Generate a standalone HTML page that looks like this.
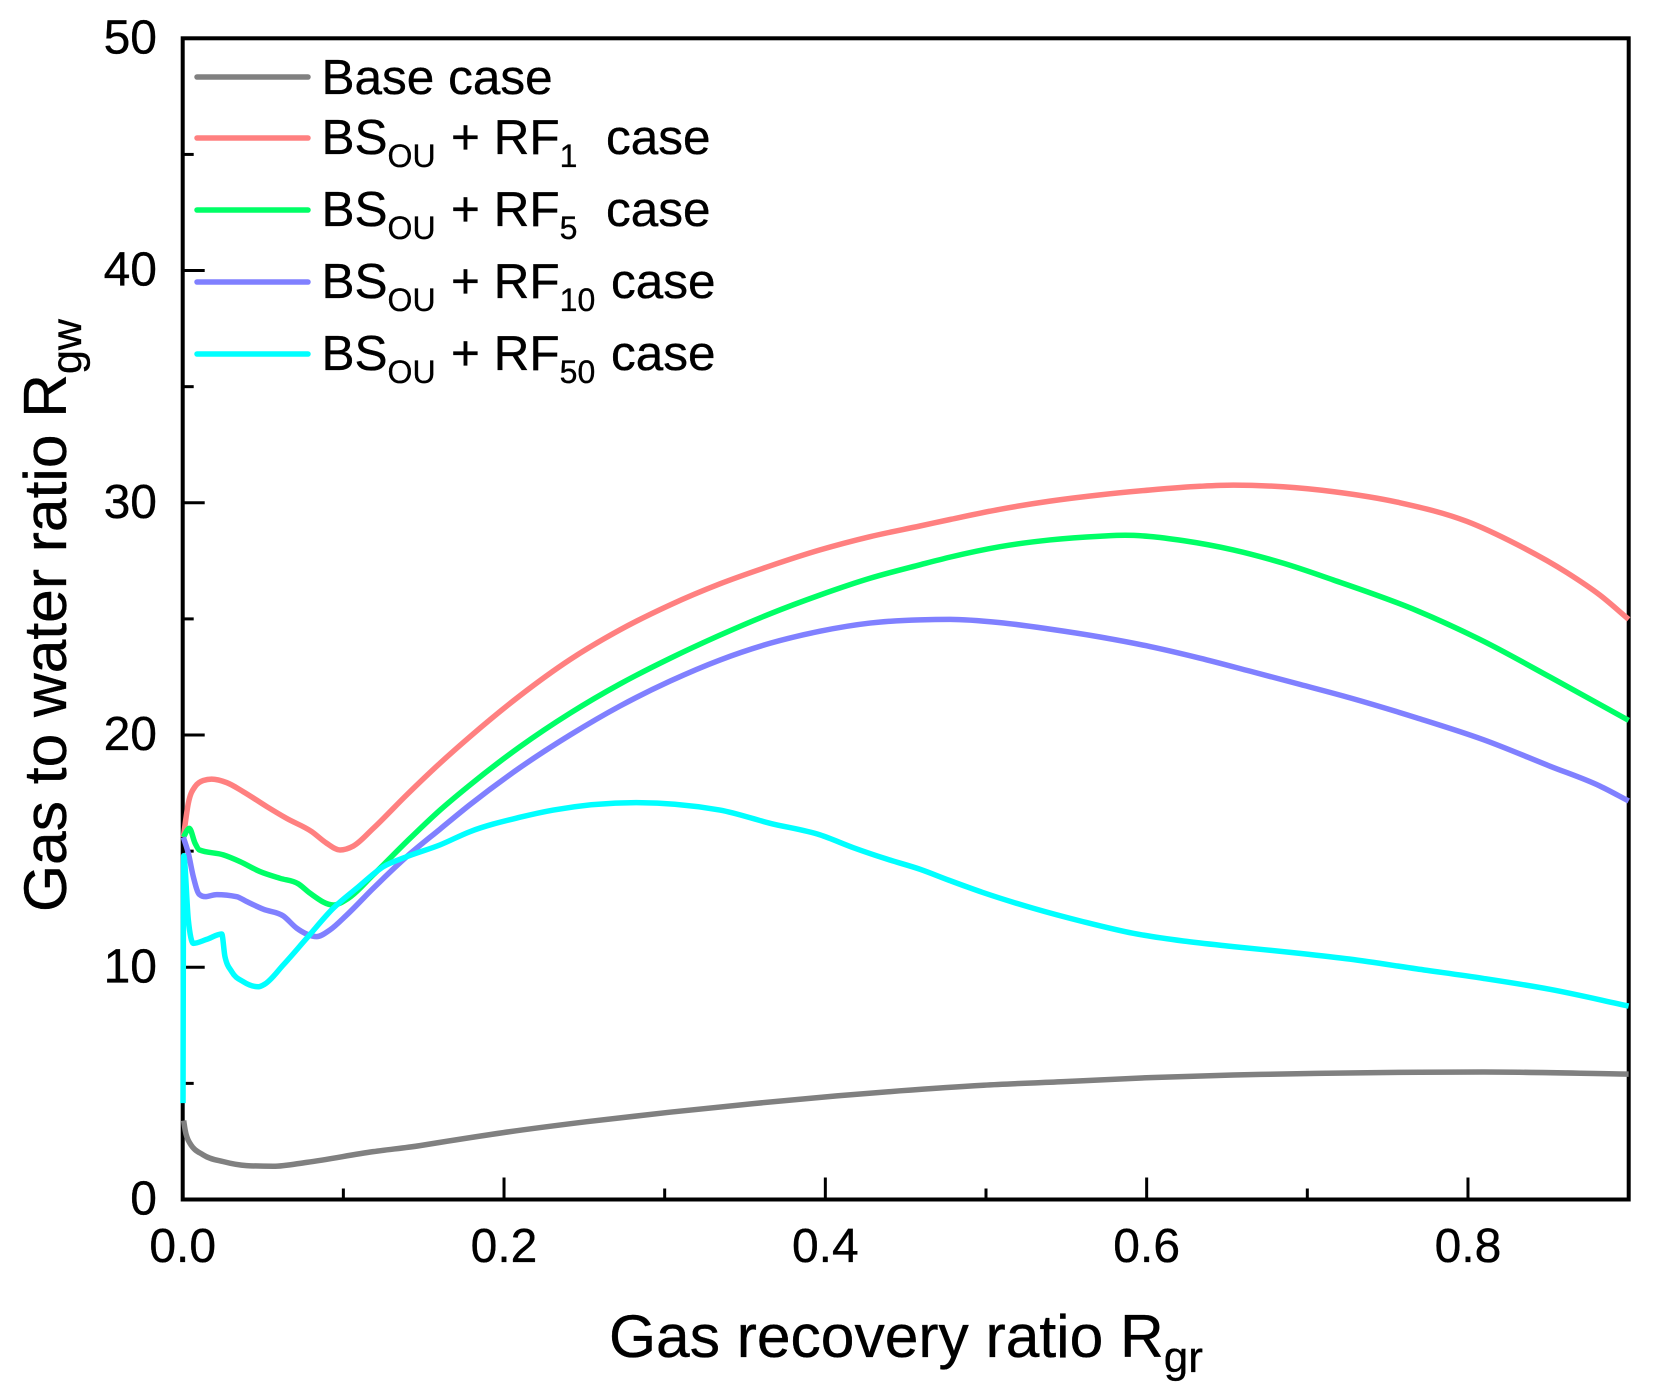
<!DOCTYPE html>
<html lang="en">
<head>
<meta charset="utf-8">
<title>Gas to water ratio vs gas recovery ratio</title>
<style>
  html, body { margin: 0; padding: 0; background: #fff; }
  svg { display: block; }
  text { font-family: "Liberation Sans", Arial, sans-serif; fill: #000; stroke: #000; stroke-width: 0.35px; }
</style>
</head>
<body>
<svg id="chart" xmlns="http://www.w3.org/2000/svg" width="1654" height="1400" viewBox="0 0 1654 1400">
  <rect x="0" y="0" width="1654" height="1400" fill="#ffffff"/>
  <g id="ticks"></g>
  <rect x="182.7" y="38.3" width="1446" height="1161.2" fill="none" stroke="#000" stroke-width="4"/>
  <g id="series"></g>
  <g id="tick-labels"></g>

  <text x="609" y="1357" font-size="60.5">Gas recovery ratio R<tspan font-size="44" dy="15">gr</tspan></text>
  <text transform="translate(66,912) rotate(-90)" font-size="60.5">Gas to water ratio R<tspan font-size="43" dy="15">gw</tspan></text>

  <g>
    <g>
      <line x1="197" x2="308" y1="77" y2="77" stroke="#808080" stroke-width="5.5" stroke-linecap="round"/>
      <text x="321.5" y="94" font-size="49.5">Base case</text>
    </g>
    <g>
      <line x1="197" x2="308" y1="138" y2="138" stroke="#ff8080" stroke-width="5.5" stroke-linecap="round"/>
      <text x="321.5" y="154" font-size="49.5">BS<tspan font-size="32" dy="13">OU</tspan><tspan x="451" dy="-13">+ RF</tspan><tspan font-size="32" dy="13">1</tspan><tspan x="606" dy="-13">case</tspan></text>
    </g>
    <g>
      <line x1="197" x2="308" y1="210" y2="210" stroke="#00ff66" stroke-width="5.5" stroke-linecap="round"/>
      <text x="321.5" y="226" font-size="49.5">BS<tspan font-size="32" dy="13">OU</tspan><tspan x="451" dy="-13">+ RF</tspan><tspan font-size="32" dy="13">5</tspan><tspan x="606" dy="-13">case</tspan></text>
    </g>
    <g>
      <line x1="197" x2="308" y1="282" y2="282" stroke="#8080ff" stroke-width="5.5" stroke-linecap="round"/>
      <text x="321.5" y="298" font-size="49.5">BS<tspan font-size="32" dy="13">OU</tspan><tspan x="451" dy="-13">+ RF</tspan><tspan font-size="32" dy="13">10</tspan><tspan x="611" dy="-13">case</tspan></text>
    </g>
    <g>
      <line x1="197" x2="308" y1="354" y2="354" stroke="#00ffff" stroke-width="5.5" stroke-linecap="round"/>
      <text x="321.5" y="370" font-size="49.5">BS<tspan font-size="32" dy="13">OU</tspan><tspan x="451" dy="-13">+ RF</tspan><tspan font-size="32" dy="13">50</tspan><tspan x="611" dy="-13">case</tspan></text>
    </g>
  </g>
</svg>
<script>
const xMajorTicks = [0.2, 0.4, 0.6, 0.8];
const xMinorTicks = [0.1, 0.3, 0.5, 0.7];
const yMajorTicks = [10, 20, 30, 40];
const yMinorTicks = [5, 15, 25, 35, 45];
const xTickLabels = ["0.0", "0.2", "0.4", "0.6", "0.8"];
const yTickLabels = ["0", "10", "20", "30", "40", "50"];

const baseX = [0.0006, 0.0015, 0.0045, 0.0128, 0.0253, 0.0398, 0.0564, 0.0772, 0.1186, 0.1477, 0.1602, 0.1996, 0.2515, 0.3033, 0.3552, 0.4071, 0.4465, 0.4984, 0.5502, 0.6021, 0.6539, 0.7058, 0.7702, 0.8096, 0.9];
const baseY = [3.4, 3.0, 2.42, 1.92, 1.63, 1.46, 1.43, 1.6, 2.06, 2.32, 2.46, 2.88, 3.35, 3.76, 4.13, 4.46, 4.68, 4.92, 5.08, 5.25, 5.36, 5.43, 5.48, 5.49, 5.4];

const rf1X = [0.0004, 0.0035, 0.0077, 0.0128, 0.018, 0.0274, 0.0377, 0.0523, 0.0647, 0.0803, 0.0896, 0.0979, 0.1062, 0.1186, 0.1394, 0.1602, 0.1788, 0.21, 0.2411, 0.2722, 0.3033, 0.3344, 0.3656, 0.3967, 0.4278, 0.4589, 0.4776, 0.5087, 0.5398, 0.571, 0.6021, 0.6332, 0.6539, 0.6849, 0.716, 0.7577, 0.7992, 0.8303, 0.8614, 0.8822, 0.9];
const rf1Y = [15.6, 17.06, 17.78, 18.04, 18.1, 17.95, 17.56, 16.92, 16.41, 15.84, 15.34, 15.05, 15.22, 15.98, 17.42, 18.79, 19.93, 21.7, 23.25, 24.53, 25.6, 26.51, 27.28, 27.97, 28.54, 29.0, 29.28, 29.72, 30.07, 30.34, 30.55, 30.71, 30.76, 30.69, 30.48, 30.0, 29.2, 28.21, 27.0, 26.02, 24.98];

const rf5X = [0.0004, 0.0041, 0.0077, 0.0104, 0.0253, 0.0357, 0.0481, 0.0606, 0.072, 0.0792, 0.0937, 0.1031, 0.1186, 0.1394, 0.1602, 0.1788, 0.21, 0.2411, 0.2722, 0.3033, 0.3344, 0.3656, 0.3967, 0.4278, 0.4589, 0.4776, 0.5087, 0.5398, 0.571, 0.5866, 0.6021, 0.6228, 0.6539, 0.6849, 0.716, 0.7681, 0.8096, 0.851, 0.9];
const rf5Y = [15.6, 15.98, 15.34, 15.05, 14.84, 14.55, 14.12, 13.83, 13.59, 13.19, 12.68, 12.97, 13.98, 15.41, 16.77, 17.85, 19.5, 20.94, 22.2, 23.3, 24.3, 25.22, 26.03, 26.75, 27.33, 27.66, 28.11, 28.4, 28.56, 28.6, 28.55, 28.37, 27.97, 27.4, 26.68, 25.36, 24.04, 22.5, 20.63];

const rf10X = [0.0004, 0.0035, 0.0066, 0.0103, 0.0139, 0.0212, 0.0336, 0.0398, 0.0502, 0.0626, 0.071, 0.0772, 0.0834, 0.0917, 0.1021, 0.1186, 0.1394, 0.1602, 0.1788, 0.21, 0.2411, 0.2722, 0.3033, 0.3344, 0.3656, 0.3967, 0.4278, 0.4589, 0.4776, 0.5087, 0.5398, 0.571, 0.6021, 0.6332, 0.6643, 0.6954, 0.7266, 0.7681, 0.8096, 0.851, 0.8822, 0.9];
const rf10Y = [15.6, 14.91, 13.9, 13.14, 13.04, 13.13, 13.04, 12.83, 12.5, 12.21, 11.68, 11.43, 11.32, 11.61, 12.25, 13.4, 14.76, 15.95, 17.0, 18.6, 20.0, 21.25, 22.32, 23.23, 23.95, 24.47, 24.82, 24.96, 24.98, 24.84, 24.56, 24.22, 23.81, 23.31, 22.75, 22.18, 21.6, 20.74, 19.8, 18.66, 17.8, 17.16];

const rf50X = [0.0002, 0.0006, 0.0035, 0.0066, 0.0149, 0.0243, 0.0263, 0.0305, 0.0377, 0.0471, 0.0512, 0.0626, 0.0772, 0.0937, 0.1083, 0.1249, 0.1394, 0.1602, 0.1788, 0.21, 0.2307, 0.2826, 0.3344, 0.3656, 0.3967, 0.4174, 0.4382, 0.4589, 0.4776, 0.4984, 0.5294, 0.5606, 0.5917, 0.6228, 0.6539, 0.6954, 0.7266, 0.7681, 0.8096, 0.851, 0.9];
const rf50Y = [4.15, 14.8, 12.04, 11.03, 11.2, 11.43, 10.46, 9.81, 9.38, 9.16, 9.28, 10.1, 11.25, 12.54, 13.4, 14.33, 14.76, 15.27, 15.84, 16.46, 16.77, 17.09, 16.77, 16.2, 15.7, 15.15, 14.66, 14.22, 13.73, 13.21, 12.54, 11.96, 11.46, 11.13, 10.89, 10.6, 10.35, 9.93, 9.52, 9.05, 8.33];

const SVG_NS = "http://www.w3.org/2000/svg";

function xScale(v) {
  return 182.7 + v * 1606.6;
}
function yScale(v) {
  return 1199.5 - v * 23.224;
}

/* Monotone-x cubic path: parabolic tangents clamped so the curve never overshoots */
function smoothPath(px, py) {
  const n = px.length;
  const d = [];
  const m = new Array(n);
  for (let i = 0; i < n - 1; i++) {
    d.push((py[i + 1] - py[i]) / (px[i + 1] - px[i]));
  }
  m[0] = d[0];
  m[n - 1] = d[n - 2];
  for (let i = 1; i < n - 1; i++) {
    if (d[i - 1] * d[i] <= 0) {
      m[i] = 0;
    } else {
      const h0 = px[i] - px[i - 1];
      const h1 = px[i + 1] - px[i];
      const parabolic = (d[i - 1] * h1 + d[i] * h0) / (h0 + h1);
      m[i] = Math.sign(d[i]) * Math.min(2 * Math.abs(d[i - 1]), 2 * Math.abs(d[i]), Math.abs(parabolic));
    }
  }
  let path = "M" + px[0].toFixed(2) + " " + py[0].toFixed(2);
  for (let i = 0; i < n - 1; i++) {
    const h = (px[i + 1] - px[i]) / 3;
    path += " C" + (px[i] + h).toFixed(2) + " " + (py[i] + m[i] * h).toFixed(2) +
      " " + (px[i + 1] - h).toFixed(2) + " " + (py[i + 1] - m[i + 1] * h).toFixed(2) +
      " " + px[i + 1].toFixed(2) + " " + py[i + 1].toFixed(2);
  }
  return path;
}

const tickGroup = document.getElementById("ticks");
const seriesGroup = document.getElementById("series");
const labelGroup = document.getElementById("tick-labels");

function addTick(x1, y1, x2, y2, name) {
  const t = document.createElementNS(SVG_NS, "line");
  t.setAttribute("x1", x1);
  t.setAttribute("y1", y1);
  t.setAttribute("x2", x2);
  t.setAttribute("y2", y2);
  t.setAttribute("stroke", "#000");
  t.setAttribute("stroke-width", "3");
  
  
  tickGroup.appendChild(t);
}

xMajorTicks.forEach(function (v) { addTick(xScale(v), 1199.5, xScale(v), 1177.5, "x-major-tick"); });
xMinorTicks.forEach(function (v) { addTick(xScale(v), 1199.5, xScale(v), 1188.5, "x-minor-tick"); });
yMajorTicks.forEach(function (v) { addTick(182.7, yScale(v), 204.7, yScale(v), "y-major-tick"); });
yMinorTicks.forEach(function (v) { addTick(182.7, yScale(v), 193.7, yScale(v), "y-minor-tick"); });

function addSeries(xs, ys, color, name) {
  const p = document.createElementNS(SVG_NS, "path");
  p.setAttribute("d", smoothPath(xs.map(xScale), ys.map(yScale)));
  p.setAttribute("fill", "none");
  p.setAttribute("stroke", color);
  p.setAttribute("stroke-width", "5.5");
  p.setAttribute("stroke-linejoin", "round");
  
  
  seriesGroup.appendChild(p);
}

addSeries(baseX, baseY, "#808080", "series-base-case");
addSeries(rf1X, rf1Y, "#ff8080", "series-rf1");
addSeries(rf5X, rf5Y, "#00ff66", "series-rf5");
addSeries(rf10X, rf10Y, "#8080ff", "series-rf10");
addSeries(rf50X, rf50Y, "#00ffff", "series-rf50");

function addLabel(x, y, str, anchor, name) {
  const t = document.createElementNS(SVG_NS, "text");
  t.setAttribute("x", x);
  t.setAttribute("y", y);
  t.setAttribute("font-size", "48");
  t.setAttribute("text-anchor", anchor);
  
  
  t.textContent = str;
  labelGroup.appendChild(t);
}

xTickLabels.forEach(function (s) { addLabel(xScale(parseFloat(s)), 1262, s, "middle", "x-tick-label"); });
yTickLabels.forEach(function (s) { addLabel(157, yScale(parseFloat(s)) + 15, s, "end", "y-tick-label"); });
</script>
</body>
</html>
